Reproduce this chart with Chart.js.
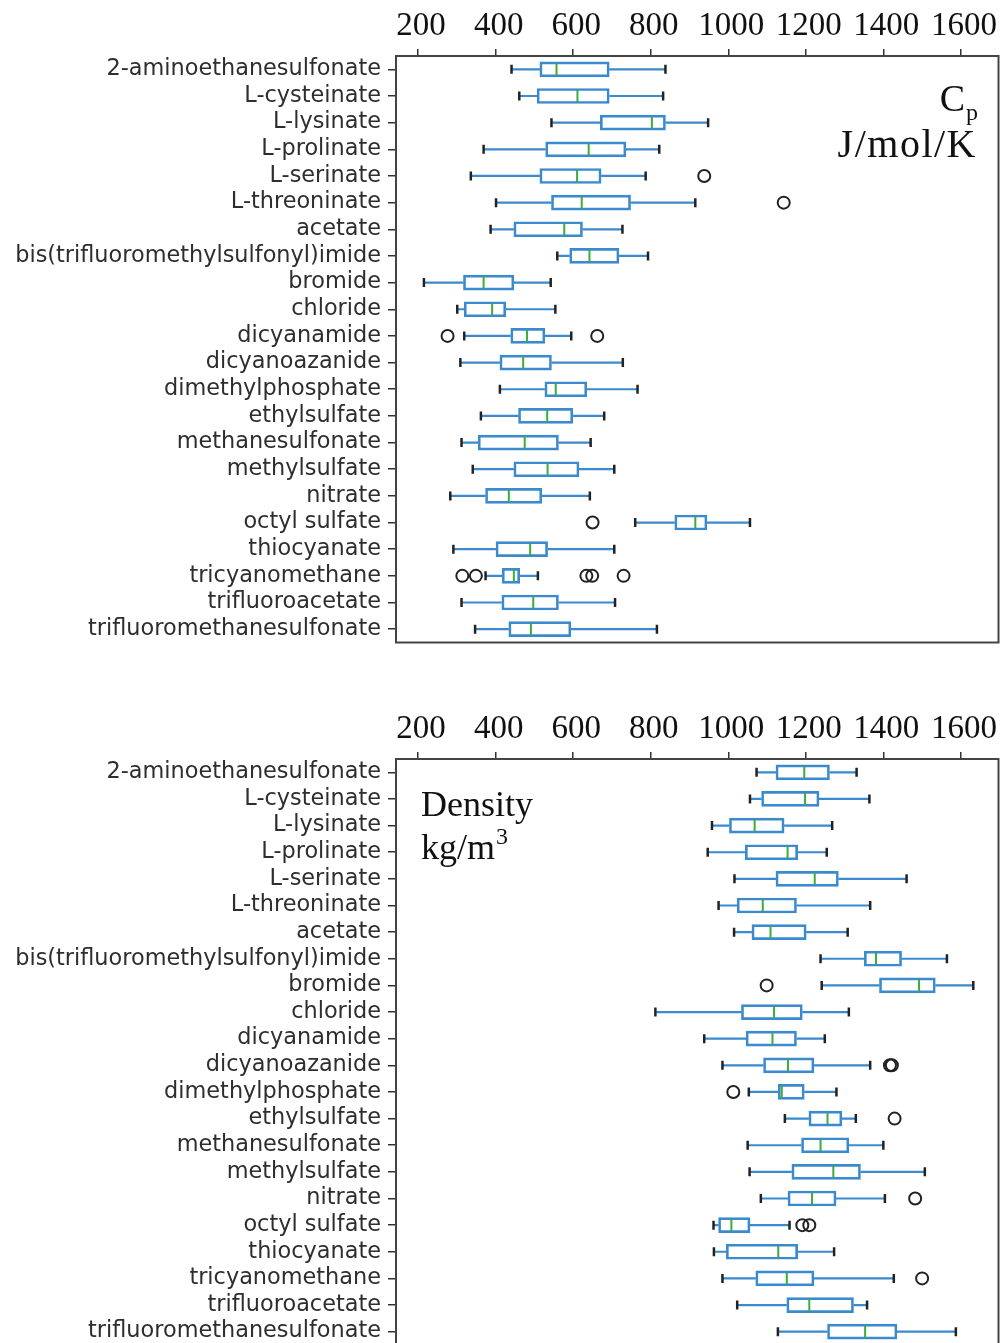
<!DOCTYPE html>
<html>
<head>
<meta charset="utf-8">
<script src="https://cdn.jsdelivr.net/npm/chart.js@4.4.0/dist/chart.umd.min.js"></script>
<style>
  html, body { margin: 0; padding: 0; background: #fff; overflow: hidden; }
  #wrap { position: relative; width: 1000px; height: 1343px; }
  canvas { position: absolute; left: 0; }
  #cp { top: 0; }
  #dens { top: 680px; }
</style>
</head>
<body>
<div id="wrap">
  <canvas id="cp" width="1000" height="680"></canvas>
  <canvas id="dens" width="1000" height="680"></canvas>
</div>
<script>
// anion categories, top to bottom
const anions = ['2-aminoethanesulfonate', 'L-cysteinate', 'L-lysinate', 'L-prolinate', 'L-serinate',
  'L-threoninate', 'acetate', 'bis(trifluoromethylsulfonyl)imide', 'bromide', 'chloride',
  'dicyanamide', 'dicyanoazanide', 'dimethylphosphate', 'ethylsulfate', 'methanesulfonate',
  'methylsulfate', 'nitrate', 'octyl sulfate', 'thiocyanate', 'tricyanomethane',
  'trifluoroacetate', 'trifluoromethanesulfonate'];

const xTicks = [200, 400, 600, 800, 1000, 1200, 1400, 1600];

// heat capacity, J/mol/K
const cpLow  = [441, 461, 544, 369, 336, 401, 387, 559, 215, 301, 319, 309, 411, 362, 312, 341, 283, 760, 291, 374, 312, 347];
const cpQ1   = [514, 507, 670, 529, 514, 544, 447, 591, 317, 319, 439, 411, 527, 459, 355, 447, 374, 862, 401, 417, 416, 434];
const cpMed  = [557, 611, 803, 640, 610, 622, 577, 642, 369, 391, 481, 471, 555, 533, 475, 534, 434, 915, 489, 447, 497, 491];
const cpQ3   = [693, 693, 838, 736, 672, 748, 624, 718, 447, 426, 527, 544, 635, 599, 562, 615, 519, 945, 534, 462, 562, 594];
const cpHigh = [838, 832, 948, 822, 787, 915, 727, 793, 542, 554, 595, 728, 766, 680, 645, 706, 643, 1056, 706, 509, 708, 816];
const cpOut  = [[], [], [], [], [938], [1143], [], [], [], [], [276, 662], [], [], [], [], [], [], [650], [],
  [314, 349, 634, 649, 730], [], []];

// density, kg/m3
const dLow  = [1073, 1056, 958, 947, 1016, 975, 1015, 1238, 1241, 812, 938, 985, 1053, 1146, 1050, 1055, 1084, 962, 963, 985, 1023, 1128];
const dQ1   = [1123, 1086, 1003, 1044, 1123, 1023, 1061, 1351, 1390, 1034, 1046, 1091, 1129, 1208, 1189, 1164, 1154, 975, 995, 1071, 1151, 1256];
const dMed  = [1196, 1198, 1068, 1153, 1223, 1089, 1109, 1381, 1492, 1118, 1114, 1154, 1138, 1256, 1238, 1271, 1216, 1008, 1129, 1151, 1209, 1353];
const dQ3   = [1261, 1234, 1144, 1179, 1284, 1176, 1201, 1447, 1534, 1191, 1176, 1221, 1196, 1293, 1311, 1341, 1278, 1056, 1179, 1221, 1323, 1435];
const dHigh = [1331, 1364, 1268, 1254, 1460, 1366, 1308, 1564, 1632, 1311, 1249, 1366, 1279, 1329, 1400, 1507, 1404, 1158, 1273, 1427, 1358, 1587];
const dOut  = [[], [], [], [], [], [], [], [], [1099], [], [], [1417, 1422], [1013], [1429], [], [], [1482],
  [1191, 1209], [], [1500], [], []];

const BLUE = '#3a8acd';
const GREEN = '#3aae3a';
const INK = '#222';
const SERIF = '"Liberation Serif", "Times New Roman", serif';

// whiskers, caps, medians, fliers, frame and the unit labels
const boxExtras = {
  id: 'boxExtras',
  afterDatasetsDraw(chart, args, opts) {
    const { ctx, chartArea: a, scales: { x, y } } = chart;
    const px = v => x.getPixelForValue(v);
    const half = 6;   // half box height (inner)
    const cap = 4.5;
    ctx.save();
    ctx.beginPath();
    ctx.rect(a.left, a.top, a.width, a.height);
    ctx.clip();
    anions.forEach((name, i) => {
      const yc = y.getPixelForValue(i);
      ctx.lineWidth = 2.2;
      ctx.strokeStyle = BLUE;
      ctx.beginPath();
      ctx.moveTo(px(opts.low[i]), yc); ctx.lineTo(px(opts.q1[i]), yc);
      ctx.moveTo(px(opts.q3[i]), yc); ctx.lineTo(px(opts.high[i]), yc);
      ctx.stroke();

      ctx.strokeStyle = INK;
      ctx.lineWidth = 2.5;
      ctx.beginPath();
      ctx.moveTo(px(opts.low[i]), yc - cap); ctx.lineTo(px(opts.low[i]), yc + cap);
      ctx.moveTo(px(opts.high[i]), yc - cap); ctx.lineTo(px(opts.high[i]), yc + cap);
      ctx.stroke();

      ctx.strokeStyle = GREEN;
      ctx.lineWidth = 2;
      ctx.beginPath();
      ctx.moveTo(px(opts.med[i]), yc - half); ctx.lineTo(px(opts.med[i]), yc + half);
      ctx.stroke();

      ctx.strokeStyle = INK;
      ctx.lineWidth = 2;
      opts.out[i].forEach(v => {
        ctx.beginPath();
        ctx.arc(px(v), yc, 6, 0, Math.PI * 2);
        ctx.stroke();
      });
    });
    ctx.restore();

    ctx.save();
    ctx.strokeStyle = '#444';
    ctx.lineWidth = 2;
    ctx.strokeRect(a.left, a.top, a.width, a.height);

    ctx.fillStyle = '#111';
    ctx.textBaseline = 'alphabetic';
    ctx.textAlign = 'left';
    opts.notes.forEach(n => {
      const mainFont = n.size + 'px ' + SERIF;
      const subFont = Math.round(n.size * (n.subScale || 0.62)) + 'px ' + SERIF;
      ctx.letterSpacing = (n.spacing || 0) + 'px';
      ctx.font = mainFont;
      const w = ctx.measureText(n.text).width;
      ctx.font = subFont;
      const sw = n.sub ? ctx.measureText(n.sub).width : 0;
      const x0 = n.align === 'right' ? n.x - w - sw : n.x;
      ctx.font = mainFont;
      ctx.fillText(n.text, x0, n.y);
      if (n.sub) {
        ctx.font = subFont;
        ctx.fillText(n.sub, x0 + w + 1, n.y + n.subDy);
      }
    });
    ctx.restore();
  }
};

function makeChart(id, stats, topH, padBottom, notes) {
  return new Chart(document.getElementById(id), {
    type: 'bar',
    data: {
      labels: anions,
      datasets: [{
        data: anions.map((_, i) => [stats.q1[i], stats.q3[i]]),
        backgroundColor: 'rgba(255,255,255,0)',
        borderColor: BLUE,
        borderWidth: 2,
        borderSkipped: false,
        barThickness: 15
      }]
    },
    options: {
      indexAxis: 'y',
      responsive: false,
      animation: false,
      events: [],
      layout: { padding: { left: 0, right: 1.5, top: 0, bottom: padBottom } },
      plugins: {
        legend: { display: false },
        tooltip: { enabled: false },
        boxExtras: Object.assign({ notes: notes }, stats)
      },
      scales: {
        x: {
          type: 'linear',
          position: 'top',
          min: 143,
          max: 1697,
          afterBuildTicks: s => { s.ticks = xTicks.map(v => ({ value: v })); },
          afterFit: s => { s.height = topH; },
          grid: { drawOnChartArea: false, tickLength: 7, color: '#333', lineWidth: 1.5 },
          border: { display: false },
          ticks: {
            font: { family: SERIF, size: 33 },
            color: '#111',
            padding: 3,
            labelOffset: 3,
            maxRotation: 0,
            autoSkip: false,
            callback: v => String(v)
          }
        },
        y: {
          type: 'category',
          offset: true,
          afterFit: s => { s.width = 396; s.paddingTop = 0; s.paddingBottom = 0; },
          grid: { offset: false, drawOnChartArea: false, tickLength: 8, color: '#333', lineWidth: 1.5 },
          border: { display: false },
          ticks: {
            font: { family: '"DejaVu Sans", sans-serif', size: 22.4 },
            color: '#2e2e2e',
            padding: 7,
            autoSkip: false
          }
        }
      }
    },
    plugins: [boxExtras]
  });
}

makeChart('cp',
  { low: cpLow, q1: cpQ1, med: cpMed, q3: cpQ3, high: cpHigh, out: cpOut },
  56, 37.5,
  [
    { text: 'C', sub: 'p', size: 38, x: 977, y: 111, align: 'right', subDy: 9 },
    { text: 'J/mol/K', size: 40, x: 977, y: 157, align: 'right', spacing: 1.5 }
  ]);

makeChart('dens',
  { low: dLow, q1: dQ1, med: dMed, q3: dQ3, high: dHigh, out: dOut },
  79, 15,
  [
    { text: 'Density', size: 36, x: 421, y: 136, align: 'left' },
    { text: 'kg/m', sub: '3', size: 36, x: 421, y: 179, align: 'left', subDy: -15, subScale: 0.68 }
  ]);
</script>
</body>
</html>
